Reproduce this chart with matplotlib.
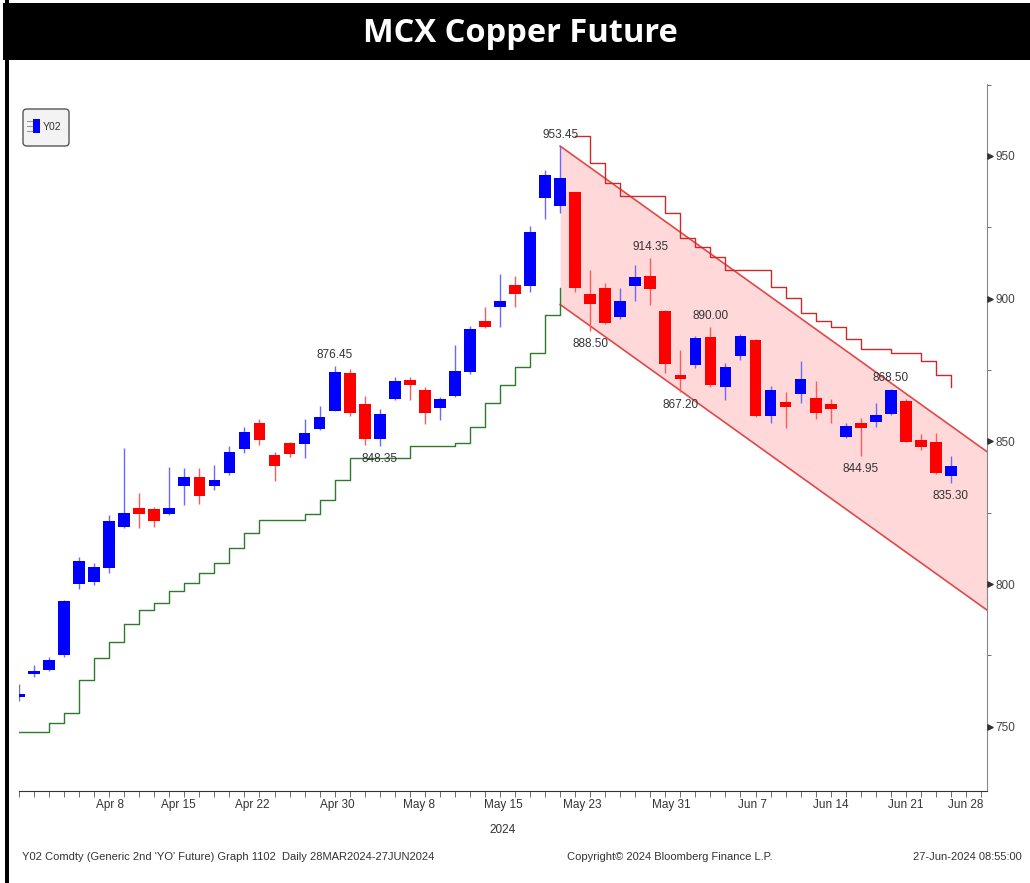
import numpy as np
import matplotlib.pyplot as plt
from matplotlib.patches import Rectangle, FancyBboxPatch
from matplotlib.transforms import blended_transform_factory

W, H = 1030, 883
NARROW = ['Liberation Sans', 'DejaVu Sans']

# daily candles, 28 Mar 2024 - 27 Jun 2024
opens = [760.4, 768.4, 770.0, 775.0, 800.0, 800.6, 805.7, 820.0, 826.8, 826.2,
         824.4, 834.5, 837.5, 834.5, 838.8, 847.3, 856.6, 845.2, 849.3, 849.1,
         854.3, 860.8, 873.9, 863.1, 850.9, 864.9, 871.5, 868.0, 861.6, 865.9,
         874.4, 892.0, 897.0, 904.8, 904.4, 935.2, 932.6, 937.2, 901.6, 903.6,
         893.5, 904.4, 908.1, 895.7, 873.3, 876.6, 886.7, 869.0, 879.9, 885.5,
         858.9, 863.7, 866.6, 865.3, 863.1, 851.6, 856.6, 856.9, 859.6, 864.3,
         850.3, 849.7, 837.7]
highs = [765.0, 771.7, 774.5, 794.5, 809.5, 807.5, 824.2, 847.7, 832.0, 827.0,
         841.0, 840.7, 840.6, 841.7, 848.4, 855.2, 858.0, 846.4, 849.7, 857.8,
         862.4, 876.45, 875.3, 865.9, 861.3, 872.7, 872.7, 869.2, 865.7, 883.8,
         890.5, 897.2, 908.7, 908.0, 925.5, 945.1, 953.45, 937.5, 910.0, 905.6,
         903.6, 911.8, 914.35, 896.0, 882.0, 887.0, 890.0, 877.4, 887.6, 885.8,
         869.4, 867.4, 878.3, 871.3, 864.8, 856.4, 858.1, 863.4, 868.5, 865.0,
         852.6, 853.1, 844.7]
lows = [759.0, 767.5, 769.6, 774.5, 798.3, 799.5, 804.0, 819.7, 819.5, 820.0,
        824.2, 827.7, 828.0, 833.0, 838.2, 845.8, 848.7, 836.0, 844.5, 844.0,
        854.0, 860.5, 858.9, 848.7, 848.35, 864.5, 864.5, 856.1, 857.5, 865.7,
        873.5, 889.6, 890.0, 897.0, 902.5, 927.8, 930.0, 902.5, 888.5, 891.0,
        892.8, 899.0, 897.8, 874.0, 867.2, 875.6, 869.2, 864.5, 878.5, 858.6,
        856.4, 854.6, 863.6, 857.8, 856.4, 851.0, 844.95, 855.2, 859.3, 849.7,
        847.0, 838.6, 835.3]
closes = [761.5, 769.7, 773.4, 794.0, 808.0, 806.0, 822.0, 824.8, 824.5, 822.2,
          826.8, 837.5, 831.0, 836.5, 846.4, 853.4, 850.5, 841.4, 845.6, 853.1,
          858.5, 874.4, 860.1, 850.8, 859.5, 871.3, 869.8, 860.1, 864.8, 874.8,
          889.3, 890.0, 899.3, 901.6, 923.5, 943.3, 942.2, 903.9, 898.0, 891.6,
          899.3, 907.5, 903.3, 877.0, 871.8, 886.1, 869.8, 876.0, 886.9, 858.9,
          868.0, 862.2, 871.8, 860.1, 861.3, 855.4, 854.8, 859.3, 868.0, 849.9,
          848.0, 838.9, 841.4]

# trailing lines
support = [748.0, 748.0, 751.4, 754.7, 766.4, 774.0, 779.8, 786.0, 790.9, 793.3,
           797.4, 800.5, 803.8, 807.5, 812.5, 818.0, 822.5, 822.5, 822.5, 824.6,
           829.5, 836.5, 844.1, 844.1, 844.1, 844.1, 848.2, 848.2, 848.2, 849.3,
           855.2, 863.3, 869.8, 876.2, 880.9, 894.3, 903.6]
resist_start = 37
resist = [957.0, 947.4, 940.4, 936.0, 936.0, 936.0, 929.9, 921.2, 918.2, 914.7,
          910.0, 910.0, 910.0, 904.2, 900.1, 894.9, 892.3, 890.2, 885.8, 882.3,
          882.3, 881.1, 881.1, 878.0, 873.3, 869.2]

# falling channel
chan_start = 36
chan_top = 953.45
chan_slope = -3.77
chan_width = 55.5

hi_marks = [21, 36, 42, 46, 58]
lo_marks = [24, 38, 44, 56, 62]

tick_pos = [6.05, 10.6, 15.5, 21.2, 26.6, 32.2, 37.5, 43.4, 48.8, 54, 59, 63]
tick_labels = ['Apr 8', 'Apr 15', 'Apr 22', 'Apr 30', 'May 8', 'May 15', 'May 23',
               'May 31', 'Jun 7', 'Jun 14', 'Jun 21', 'Jun 28']
y_ticks = [750, 800, 850, 900, 950]
y_minor = [775, 825, 875, 925, 975]


def fx(x):
    return x / W


def fy(y):
    return 1 - y / H


fig = plt.figure(figsize=(W / 100, H / 100), dpi=100)

# title band and left border
fig.patches.append(Rectangle((fx(3), fy(60)), 1 - fx(3), 57 / H, facecolor='black',
                             edgecolor='none', transform=fig.transFigure))
fig.patches.append(Rectangle((fx(5), 0), 4 / W, 1, facecolor='black',
                             edgecolor='none', transform=fig.transFigure))
fig.text(0.505, fy(34), 'MCX Copper Future', color='white', fontsize=23.5,
         fontweight='bold', family='Open Sans', ha='center', va='center')

ax = fig.add_axes([fx(19), fy(791), (987 - 19) / W, (791 - 84) / H])
xmax = 64.4
ax.set_xlim(0, xmax)
ax.set_ylim(727.5, 975.2)

# channel
cx = np.array([chan_start, xmax])
upper = chan_top + chan_slope * (cx - chan_start)
lower = upper - chan_width
ax.fill_between(cx, lower, upper, color='#FFD9D9', lw=0, zorder=1)
ax.plot(cx, upper, color='#E04848', lw=1.2, zorder=2)
ax.plot(cx, lower, color='#E04848', lw=1.2, zorder=2)

ax.step(np.arange(len(support)), support, where='post', color='#2E7A2E', lw=1, zorder=2)
ax.step(np.arange(resist_start, resist_start + len(resist)), resist, where='post',
        color='#CC2A2A', lw=1, zorder=2)

for i in range(len(opens)):
    o, h, l, c = opens[i], highs[i], lows[i], closes[i]
    up = c >= o
    body = '#0000FF' if up else '#FF0000'
    wick = '#6A6AFF' if up else '#FF5A5A'
    ax.vlines(i, l, h, color=wick, lw=1, zorder=3)
    ax.bar(i, abs(c - o), bottom=min(o, c), width=0.78, color=body, lw=0, zorder=4)

for i in hi_marks:
    ax.annotate(f'{highs[i]:.2f}', (i, highs[i]), xytext=(0, 3.5), textcoords='offset points',
                ha='center', va='bottom', fontsize=8.5, color='#333333', family=NARROW, zorder=5)
for i in lo_marks:
    ax.annotate(f'{lows[i]:.2f}', (i, lows[i]), xytext=(0, -5), textcoords='offset points',
                ha='center', va='top', fontsize=8.5, color='#333333', family=NARROW, zorder=5)

# axes styling
for s in ['top', 'left']:
    ax.spines[s].set_visible(False)
ax.spines['right'].set_color('#888888')
ax.spines['bottom'].set_color('#333333')
ax.yaxis.tick_right()
ax.set_yticks(y_ticks)
ax.set_yticks(y_minor, minor=True)
ax.tick_params(axis='y', which='major', length=0, pad=6, labelsize=8.5, labelcolor='#444444')
ax.tick_params(axis='y', which='minor', length=3, color='#555555', direction='out')
for lab in ax.get_yticklabels():
    lab.set_family(NARROW)
tr = blended_transform_factory(ax.transAxes, ax.transData)
ax.scatter([1.0036] * len(y_ticks), y_ticks, marker='>', s=14, color='#333333',
           transform=tr, clip_on=False, zorder=6)

ax.xaxis.remove_overlapping_locs = False
ax.set_xticks(tick_pos)
ax.set_xticklabels(tick_labels)
ax.set_xticks(np.arange(0, 65), minor=True)
ax.tick_params(axis='x', which='major', length=0, pad=6, labelsize=8.5, labelcolor='#333333')
ax.tick_params(axis='x', which='minor', length=4, color='#555555', direction='out')
for lab in ax.get_xticklabels():
    lab.set_family(NARROW)

fig.text(fx(503), fy(830), '2024', fontsize=8.5, color='#333333', family=NARROW,
         ha='center', va='center')

# legend box
fig.patches.append(FancyBboxPatch((fx(23), fy(146)), 46 / W, 37 / H,
                                  boxstyle='round,pad=0,rounding_size=0.004',
                                  facecolor='#F3F3F3', edgecolor='#555555', lw=1,
                                  transform=fig.transFigure))
for yy in [121, 126, 131]:
    fig.lines.append(plt.Line2D([fx(27), fx(32)], [fy(yy), fy(yy)], color='#999999',
                                lw=0.8, transform=fig.transFigure))
fig.patches.append(Rectangle((fx(33), fy(133)), 7 / W, 14 / H, facecolor='#0000FF',
                             edgecolor='none', transform=fig.transFigure))
fig.text(fx(43), fy(127), 'Y02', fontsize=7.5, color='#333333', family=NARROW,
         ha='left', va='center')

# footer
fig.text(fx(22), fy(857), "Y02 Comdty (Generic 2nd 'YO' Future) Graph 1102  Daily 28MAR2024-27JUN2024",
         fontsize=8, color='#333333', family=NARROW, ha='left', va='center')
fig.text(fx(567), fy(857), 'Copyright\u00a9 2024 Bloomberg Finance L.P.',
         fontsize=8, color='#333333', family=NARROW, ha='left', va='center')
fig.text(fx(1022), fy(857), '27-Jun-2024 08:55:00',
         fontsize=8, color='#333333', family=NARROW, ha='right', va='center')

fig.savefig('out.png', dpi=100)
